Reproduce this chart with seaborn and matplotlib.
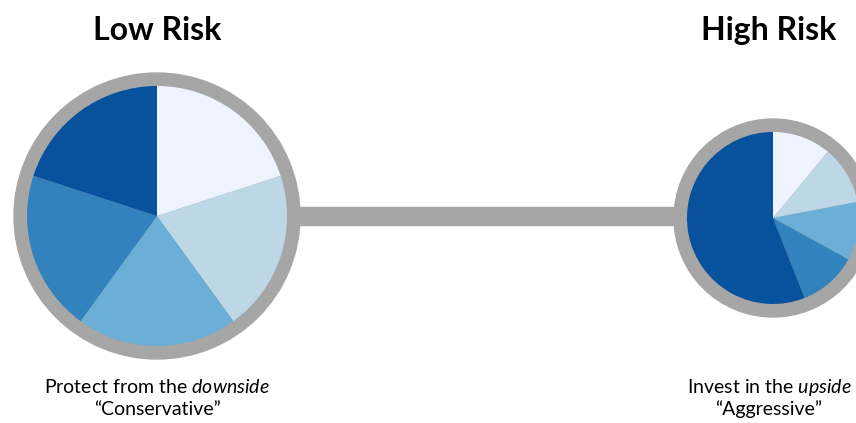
import matplotlib
matplotlib.use("Agg")
import matplotlib.pyplot as plt
import seaborn as sns
from matplotlib.patches import Circle, Rectangle

# portfolio mixes (share of each asset bucket, %)
low_risk_mix = [20, 20, 20, 20, 20]
high_risk_mix = [11, 11, 11, 11, 56]
blues = ["#EFF3FF", "#BDD7E7", "#6BAED6", "#3182BD", "#08519C"]
titles = ["Low Risk", "High Risk"]
captions = [("Protect from the", "downside", "\u201cConservative\u201d"),
            ("Invest in the", "upside", "\u201cAggressive\u201d")]

sns.set_theme(style="white")
plt.rcParams["font.family"] = ["Lato", "DejaVu Sans"]
plt.rcParams["mathtext.fontset"] = "custom"
plt.rcParams["mathtext.rm"] = "Lato"
plt.rcParams["mathtext.it"] = "Lato:italic"

W, H = 856, 423
fig = plt.figure(figsize=(W / 100, H / 100), dpi=100)
ax = fig.add_axes([0, 0, 1, 1])

ring = "#A6A6A6"
pal = sns.color_palette(blues)

# layout in pixel units (y measured up from bottom)
centers = [(157, H - 216), (773, H - 218)]
radii = [130, 86]
ring_w = 13

# connecting bar
ax.add_patch(Rectangle((centers[0][0], H - 225), centers[1][0] - centers[0][0], 18,
                       color=ring, zorder=1))

for (cx, cy), r, mix in zip(centers, radii, [low_risk_mix, high_risk_mix]):
    ax.add_patch(Circle((cx, cy), r + ring_w, color=ring, zorder=2))
    wedges, _ = ax.pie(mix, colors=pal, startangle=90, counterclock=False,
                       center=(cx, cy), radius=r, frame=True,
                       wedgeprops=dict(linewidth=0))
    for w in wedges:
        w.set_zorder(3)

ax.set_xlim(0, W)
ax.set_ylim(0, H)
ax.set_aspect("equal")
ax.axis("off")

title_x = [157, 769]
for x, t in zip(title_x, titles):
    ax.text(x, H - 30, t, ha="center", va="center", fontsize=23,
            fontweight="bold", color="black")

for x, (a, b, c) in zip(title_x, captions):
    ax.text(x, H - 387, a + " $\\it{" + b + "}$", ha="center", va="center",
            fontsize=14, color="black")
    ax.text(x, H - 409, c, ha="center", va="center", fontsize=14, color="black")

fig.savefig("out.png", dpi=100)
